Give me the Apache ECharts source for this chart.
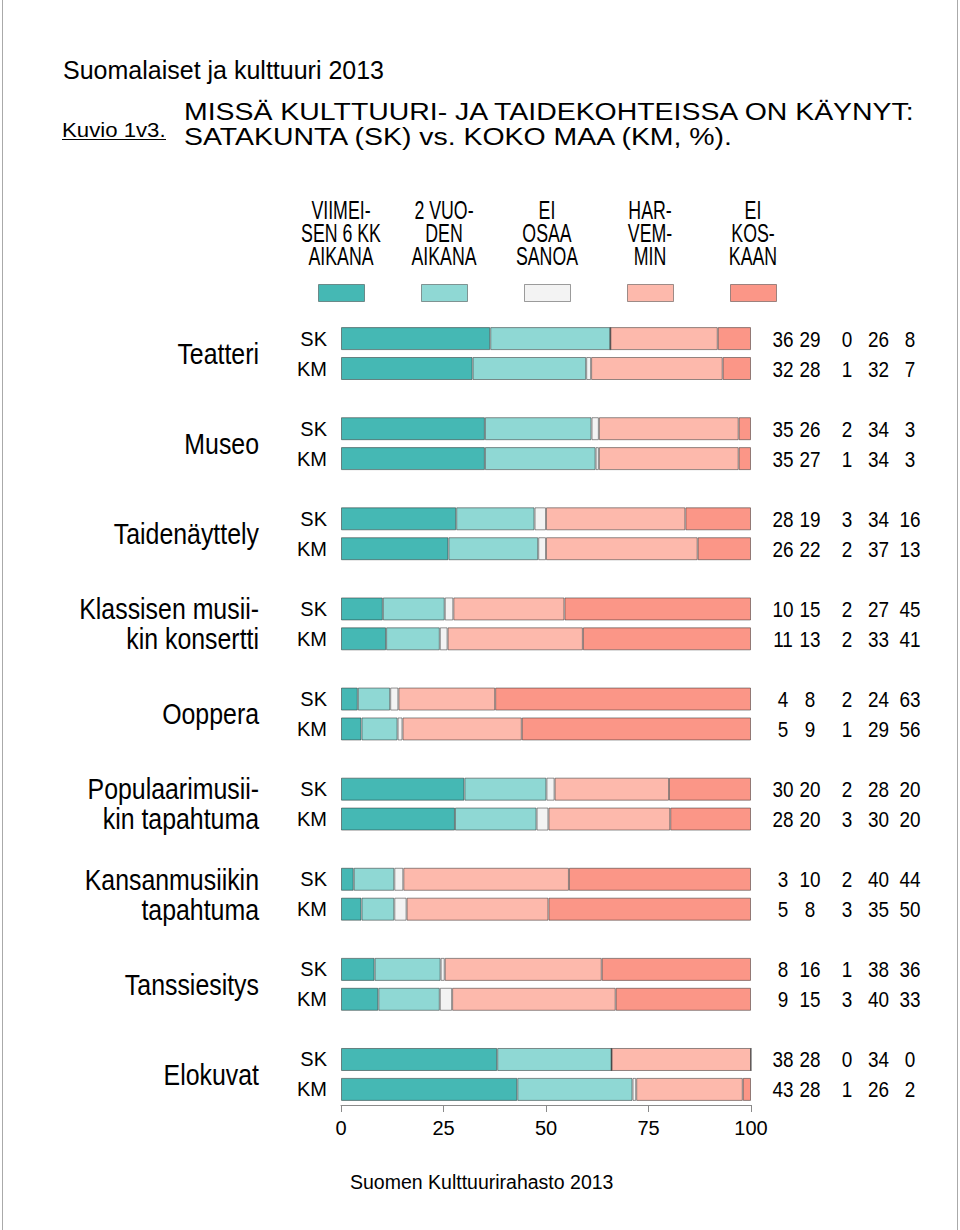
<!DOCTYPE html>
<html><head><meta charset="utf-8">
<script src="https://cdn.jsdelivr.net/npm/echarts@6/dist/echarts.min.js"></script>
<style>html,body{margin:0;padding:0;background:#fff}#c{width:960px;height:1230px}</style>
</head><body><div id="c"></div>
<script>
// ---- data ----
const categories = ['Teatteri', 'Museo', 'Taidenäyttely', 'Klassisen musii-\nkin konsertti', 'Ooppera',
  'Populaarimusii-\nkin tapahtuma', 'Kansanmusiikin\ntapahtuma', 'Tanssiesitys', 'Elokuvat'];
const groups = ['SK', 'KM'];
const responseNames = ['VIIMEISEN 6 KK AIKANA', '2 VUODEN AIKANA', 'EI OSAA SANOA', 'HARVEMMIN', 'EI KOSKAAN'];
const legendLabels = ['VIIMEI-\nSEN 6 KK\nAIKANA', '2 VUO-\nDEN\nAIKANA', 'EI\nOSAA\nSANOA', 'HAR-\nVEM-\nMIN', 'EI\nKOS-\nKAAN'];
const colors = ['#45B8B4', '#8FD8D4', '#F3F3F3', '#FDB9AC', '#FB9687'];

// bar lengths (%)
const skLast6m = [36.4, 35.1, 28.1, 10.2, 4.1, 30.1, 3.1, 8.2, 38.1];
const skTwoYears = [29.3, 26.0, 19.1, 15.1, 7.9, 20.0, 9.9, 16.1, 27.9];
const skDontKnow = [0, 1.8, 2.8, 2.1, 2.0, 2.0, 2.2, 1.0, 0];
const skLessOften = [26.2, 34.1, 34.0, 27.1, 23.6, 27.9, 40.4, 38.3, 34.0];
const skNever = [8.1, 3.0, 16.0, 45.5, 62.4, 20.0, 44.4, 36.4, 0];

const kmLast6m = [32.1, 35.1, 26.2, 11.0, 5.0, 27.8, 5.0, 9.1, 43.0];
const kmTwoYears = [27.7, 27.0, 21.9, 13.1, 8.8, 19.9, 8.0, 15.0, 28.1];
const kmDontKnow = [1.2, 0.8, 1.9, 1.9, 1.2, 2.9, 3.0, 3.0, 0.9];
const kmLessOften = [32.1, 34.1, 37.0, 33.0, 29.1, 29.7, 34.6, 39.9, 26.0];
const kmNever = [6.9, 3.0, 13.0, 41.0, 55.9, 19.7, 49.4, 33.0, 2.0];

// printed numbers on the right
const skPrinted = [[36, 29, 0, 26, 8], [35, 26, 2, 34, 3], [28, 19, 3, 34, 16], [10, 15, 2, 27, 45], [4, 8, 2, 24, 63],
  [30, 20, 2, 28, 20], [3, 10, 2, 40, 44], [8, 16, 1, 38, 36], [38, 28, 0, 34, 0]];
const kmPrinted = [[32, 28, 1, 32, 7], [35, 27, 1, 34, 3], [26, 22, 2, 37, 13], [11, 13, 2, 33, 41], [5, 9, 1, 29, 56],
  [28, 20, 3, 30, 20], [5, 8, 3, 35, 50], [9, 15, 3, 40, 33], [43, 28, 1, 26, 2]];

const xMin = 0, xMax = 100, xStep = 25;

// ---- build ----
const values = {
  SK: [skLast6m, skTwoYears, skDontKnow, skLessOften, skNever],
  KM: [kmLast6m, kmTwoYears, kmDontKnow, kmLessOften, kmNever]
};
const SANS = "'Liberation Sans', Arial, Helvetica, sans-serif";

const GRID_LEFT = 341, GRID_RIGHT_X = 751;
const BAR_W = 23, ROW_OFF = 15;
const numCols = [783, 810, 847, 878.5, 910];

const series = [];
groups.forEach(g => {
  responseNames.forEach((name, i) => {
    series.push({
      type: 'bar', name: name, stack: g,
      data: values[g][i], barWidth: BAR_W, barGap: '30%',
      itemStyle: { color: colors[i], borderColor: 'rgba(40,40,40,0.5)', borderWidth: 1 },
      emphasis: { disabled: true }, animation: false
    });
  });
});

// text columns beside the bars, placed on the category axis
series.push({
  type: 'custom', name: 'labels', coordinateSystem: 'cartesian2d', clip: false, silent: true, z: 5,
  data: categories.map((c, i) => [0, i]), encode: { x: 0, y: 1 },
  renderItem: (params, api) => {
    const idx = api.value(1);
    const cy = api.coord([0, idx])[1];
    const children = [{
      type: 'text', x: 259, y: cy, scaleX: 0.83,
      style: { text: categories[idx], font: '30px ' + SANS, fill: '#000', align: 'right', verticalAlign: 'middle', lineHeight: 30 }
    }];
    groups.forEach((g, gi) => {
      const ry = cy + (gi === 0 ? -ROW_OFF : ROW_OFF);
      children.push({ type: 'text', x: 327, y: ry,
        style: { text: g, font: '20px ' + SANS, fill: '#000', align: 'right', verticalAlign: 'middle' } });
      const printed = gi === 0 ? skPrinted : kmPrinted;
      numCols.forEach((cx, col) => {
        children.push({ type: 'text', x: cx, y: ry, scaleX: 0.86,
          style: { text: String(printed[idx][col]), font: '22px ' + SANS, fill: '#000', align: 'center', verticalAlign: 'middle' } });
      });
    });
    return { type: 'group', children: children };
  }
});

const legendCenters = [0, 1, 2, 3, 4].map(i => 341 + i * 103);
const graphic = [
  { type: 'line', shape: { x1: 2.5, y1: 0, x2: 2.5, y2: 1230 }, style: { stroke: '#aaa', lineWidth: 1 } },
  { type: 'line', shape: { x1: 957.5, y1: 0, x2: 957.5, y2: 1230 }, style: { stroke: '#aaa', lineWidth: 1 } },
  { type: 'text', x: 63, y: 70, style: { text: 'Suomalaiset ja kulttuuri 2013', font: '25px ' + SANS, fill: '#000', verticalAlign: 'middle' } },
  { type: 'text', x: 62, y: 130, scaleX: 1.11, style: { text: 'Kuvio 1v3.', font: '20px ' + SANS, fill: '#000', verticalAlign: 'middle' } },
  { type: 'line', shape: { x1: 62, y1: 139.5, x2: 166, y2: 139.5 }, style: { stroke: '#000', lineWidth: 1 } },
  { type: 'text', x: 184, y: 111.5, scaleX: 1.185, style: { text: 'MISSÄ KULTTUURI- JA TAIDEKOHTEISSA ON KÄYNYT:', font: '24px ' + SANS, fill: '#000', verticalAlign: 'middle' } },
  { type: 'text', x: 184, y: 136.5, scaleX: 1.185, style: { text: 'SATAKUNTA (SK) vs. KOKO MAA (KM, %).', font: '24px ' + SANS, fill: '#000', verticalAlign: 'middle' } },
  { type: 'text', x: 350, y: 1182, style: { text: 'Suomen Kulttuurirahasto 2013', font: '19.5px ' + SANS, fill: '#000', verticalAlign: 'middle' } }
];
legendLabels.forEach((t, i) => {
  graphic.push({ type: 'text', x: legendCenters[i], y: 233, scaleX: 0.71,
    style: { text: t, font: '25px ' + SANS, fill: '#000', align: 'center', verticalAlign: 'middle', lineHeight: 23 } });
});

const chart = echarts.init(document.getElementById('c'), null, { renderer: 'svg' });
chart.setOption({
  backgroundColor: '#fff',
  animation: false,
  legend: {
    data: responseNames, left: 313, top: 279, itemWidth: 46, itemHeight: 17, itemGap: 56,
    icon: 'rect', selectedMode: false, formatter: () => '',
    itemStyle: { borderColor: 'rgba(40,40,40,0.45)', borderWidth: 1 },
    textStyle: { fontSize: 1 }
  },
  grid: { left: GRID_LEFT, right: 960 - GRID_RIGHT_X, top: 308.5, height: 811, containLabel: false },
  xAxis: {
    type: 'value', min: xMin, max: xMax, interval: xStep, offset: -14.5,
    axisLine: { show: true, lineStyle: { color: '#8a8a8a', width: 1 } },
    axisTick: { show: true, length: 7, lineStyle: { color: '#8a8a8a' } },
    axisLabel: { fontSize: 20, color: '#000', margin: 13, fontFamily: SANS },
    splitLine: { show: false }
  },
  yAxis: {
    type: 'category', data: categories, inverse: true,
    axisLine: { show: false }, axisTick: { show: false }, axisLabel: { show: false }, splitLine: { show: false }
  },
  series: series,
  graphic: graphic
});
</script></body></html>
